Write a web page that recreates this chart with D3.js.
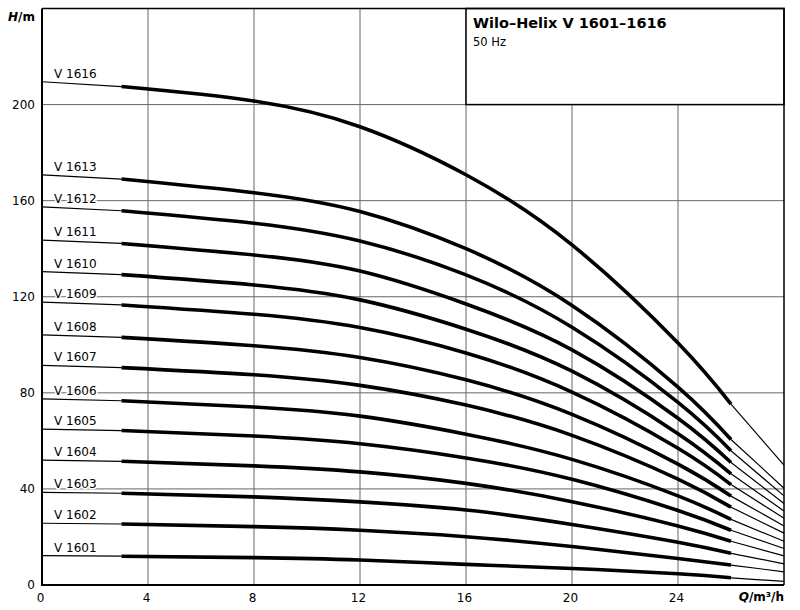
<!DOCTYPE html>
<html>
<head>
<meta charset="utf-8">
<script src="https://cdn.jsdelivr.net/npm/d3@7"></script>
<style>
  body { margin: 0; background: #fff; }
  text { font-family: "DejaVu Sans", sans-serif; }
</style>
</head>
<body>
<div id="chart"></div>
<script>
// Flow points (m³/h) where each curve was read
const qPts = [0, 3, 8, 12, 16, 20, 24, 26, 28];

// Head (m) of each pump at the flow points above
const v1601 = [12.2, 12.0, 11.4, 10.4, 8.6, 6.9, 4.7, 3.0, 1.5];
const v1602 = [25.7, 25.4, 24.3, 22.8, 20.1, 16.0, 11.0, 8.3, 5.5];
const v1603 = [38.6, 38.2, 36.7, 34.6, 31.2, 25.2, 17.8, 13.2, 8.8];
const v1604 = [52.0, 51.5, 49.6, 47.1, 42.3, 34.7, 24.6, 18.2, 12.1];
const v1605 = [64.9, 64.3, 62.0, 58.8, 52.9, 44.0, 31.0, 22.8, 15.2];
const v1606 = [77.5, 76.7, 74.1, 70.3, 62.8, 52.3, 37.1, 27.3, 18.2];
const v1607 = [91.4, 90.5, 87.5, 83.1, 74.9, 62.3, 44.1, 32.4, 21.6];
const v1608 = [104.1, 103.1, 99.6, 94.7, 85.4, 71.0, 50.3, 37.0, 24.6];
const v1609 = [117.8, 116.6, 112.7, 107.2, 96.6, 80.3, 56.9, 41.8, 27.8];
const v1610 = [130.5, 129.2, 124.9, 118.7, 106.5, 89.0, 63.0, 46.3, 30.8];
const v1611 = [143.6, 142.2, 137.4, 130.7, 117.0, 97.9, 69.4, 51.0, 33.9];
const v1612 = [157.4, 155.8, 150.6, 143.2, 129.1, 107.3, 76.0, 55.9, 37.1];
const v1613 = [170.7, 169.0, 163.3, 155.5, 140.0, 116.4, 82.4, 60.6, 40.3];
const v1616 = [209.5, 207.5, 201.5, 190.8, 170.8, 141.6, 100.7, 75.3, 49.9];

const curveNames = ["V 1601", "V 1602", "V 1603", "V 1604", "V 1605", "V 1606", "V 1607",
                    "V 1608", "V 1609", "V 1610", "V 1611", "V 1612", "V 1613", "V 1616"];
const curveValues = [v1601, v1602, v1603, v1604, v1605, v1606, v1607,
                     v1608, v1609, v1610, v1611, v1612, v1613, v1616];

// Tick labels
const xTicks = [0, 4, 8, 12, 16, 20, 24];
const yTicks = [0, 40, 80, 120, 160, 200];
const xGrid = [4, 8, 12, 16, 20, 24];
const yGrid = [40, 80, 120, 160, 200];

const title = "Wilo–Helix V 1601–1616";
const subtitle = "50 Hz";

// Dimensions
const W = 800, H = 610;
const plotLeft = 42, plotRight = 784, plotTop = 8.5, plotBottom = 585;

const svg = d3.select("#chart").append("svg")
  .attr("width", W)
  .attr("height", H);

const x = d3.scaleLinear().domain([0, 28]).range([plotLeft, plotRight]);
const y = d3.scaleLinear().domain([0, 240]).range([plotBottom, plotTop]);

// Gridlines
svg.selectAll("line.vgrid")
  .data(xGrid)
  .enter().append("line")
  .attr("class", "vgrid")
  .attr("x1", d => x(d)).attr("x2", d => x(d))
  .attr("y1", plotTop).attr("y2", plotBottom)
  .style("stroke", "#666")
  .style("stroke-width", 1);

svg.selectAll("line.hgrid")
  .data(yGrid)
  .enter().append("line")
  .attr("class", "hgrid")
  .attr("x1", plotLeft).attr("x2", plotRight)
  .attr("y1", d => y(d)).attr("y2", d => y(d))
  .style("stroke", "#666")
  .style("stroke-width", 1);

// Title box
svg.append("rect")
  .attr("x", x(16)).attr("y", y(240))
  .attr("width", x(28) - x(16)).attr("height", y(200) - y(240))
  .attr("fill", "#fff")
  .attr("stroke", "#000")
  .attr("stroke-width", 1.5);

svg.append("text")
  .attr("x", x(16) + 7).attr("y", 28)
  .style("font-size", "14.5px")
  .style("font-weight", "bold")
  .text(title);

svg.append("text")
  .attr("x", x(16) + 7).attr("y", 46)
  .style("font-size", "11.5px")
  .text(subtitle);

// Curves
const series = curveNames.map((name, i) => ({
  name: name,
  pts: qPts.map((q, j) => ({ q: q, h: curveValues[i][j] }))
}));

const thinLine = d3.line().x(d => x(d.q)).y(d => y(d.h));
const thickLine = d3.line().x(d => x(d.q)).y(d => y(d.h)).curve(d3.curveNatural);

const g = svg.selectAll("g.curve")
  .data(series)
  .enter().append("g")
  .attr("class", "curve");

g.append("path")
  .attr("d", d => thinLine(d.pts.slice(0, 2)))
  .attr("fill", "none").attr("stroke", "#000").attr("stroke-width", 1.2);

g.append("path")
  .attr("d", d => thinLine(d.pts.slice(7)))
  .attr("fill", "none").attr("stroke", "#000").attr("stroke-width", 1.2);

g.append("path")
  .attr("d", d => thickLine(d.pts.slice(1, 8)))
  .attr("fill", "none").attr("stroke", "#000").attr("stroke-width", 3.6);

// Curve labels
g.append("text")
  .attr("x", 54)
  .attr("y", d => y(d.pts[0].h) - 4)
  .style("font-size", "12px")
  .attr("fill", "#000")
  .attr("stroke", "#fff")
  .attr("stroke-width", 3)
  .attr("paint-order", "stroke")
  .text(d => d.name);

// Axes
const xAxis = d3.axisBottom(x).tickValues(xTicks).tickSize(0).tickPadding(8);
const yAxis = d3.axisLeft(y).tickValues(yTicks).tickSize(0).tickPadding(7);

svg.append("g")
  .attr("class", "x axis")
  .attr("transform", "translate(-2," + plotBottom + ")")
  .style("font-size", "12px")
  .style("font-family", "DejaVu Sans")
  .call(xAxis)
  .call(a => a.select(".domain").remove());

svg.append("g")
  .attr("class", "y axis")
  .attr("transform", "translate(" + plotLeft + ",0)")
  .style("font-size", "12px")
  .style("font-family", "DejaVu Sans")
  .call(yAxis)
  .call(a => a.select(".domain").remove());

svg.selectAll(".axis .tick text").attr("fill", "#000");

// Axis titles
const yTitle = svg.append("text")
  .attr("x", 35).attr("y", 21)
  .attr("text-anchor", "end")
  .style("font-size", "12px")
  .style("font-weight", "bold");
yTitle.append("tspan").style("font-style", "italic").text("H");
yTitle.append("tspan").text("/m");

const xTitle = svg.append("text")
  .attr("x", plotRight).attr("y", 601)
  .attr("text-anchor", "end")
  .style("font-size", "12px")
  .style("font-weight", "bold");
xTitle.append("tspan").style("font-style", "italic").text("Q");
xTitle.append("tspan").text("/m³/h");

// Frame
svg.append("path")
  .attr("d", "M" + plotLeft + "," + plotTop + "V" + plotBottom + "H" + plotRight)
  .attr("fill", "none").attr("stroke", "#000").attr("stroke-width", 2);
svg.append("path")
  .attr("d", "M" + plotLeft + "," + plotTop + "H" + plotRight + "V" + plotBottom)
  .attr("fill", "none").attr("stroke", "#000").attr("stroke-width", 1.5);
</script>
</body>
</html>
